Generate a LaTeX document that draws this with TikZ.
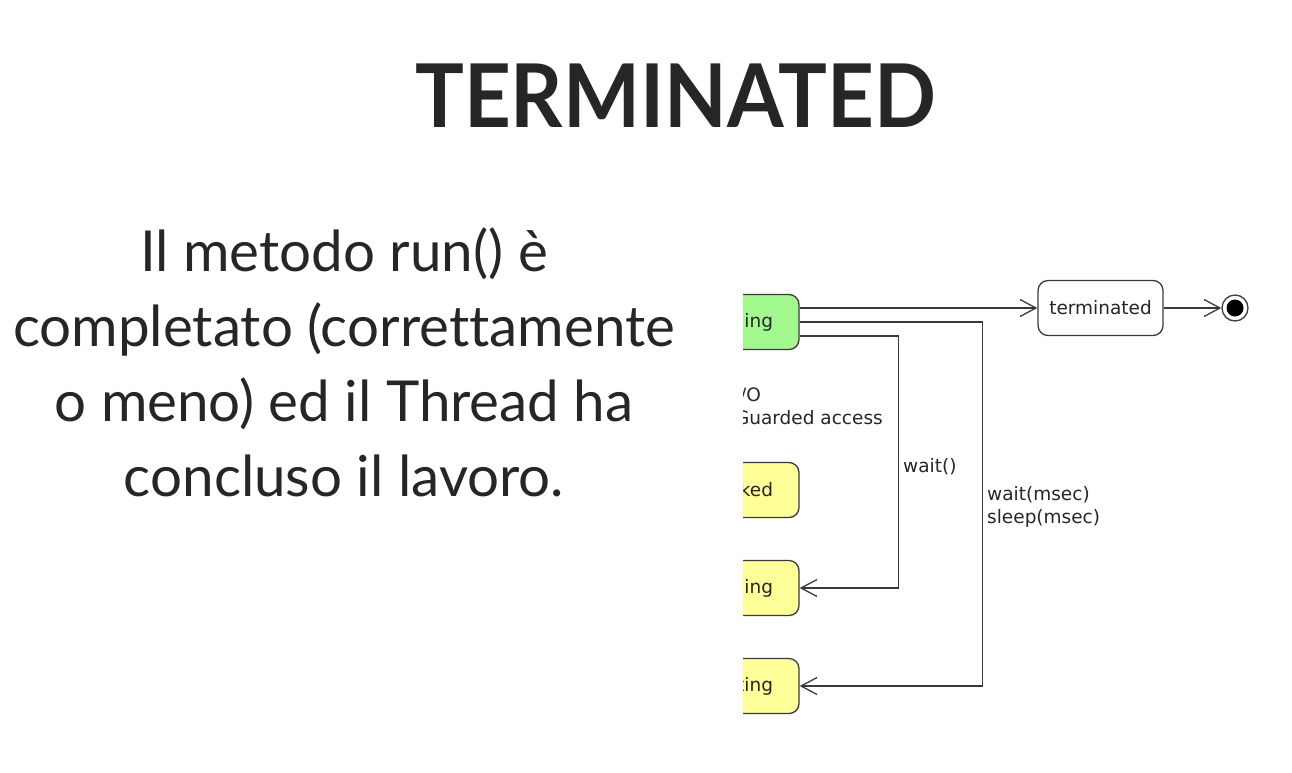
\documentclass[tikz,border=0pt]{standalone}
\usepackage{fontspec}
\setmainfont{Lato}[Ligatures=NoCommon]
\newfontfamily\umlfont{DejaVu Sans}
\usetikzlibrary{calc,positioning,arrows.meta}
\definecolor{slidetext}{HTML}{262626}
\definecolor{umlline}{HTML}{3A3A3A}
\definecolor{runfill}{HTML}{A3F88F}
\definecolor{waitfill}{HTML}{FFFF99}

\begin{document}
\begin{tikzpicture}[x=1pt,y=-1pt,
  state/.style={draw=umlline, line width=1.3pt, rounded corners=10pt, minimum height=55pt,
    font=\umlfont\fontsize{18.5}{22}\selectfont, text=slidetext},
  cutstate/.style={state, text width=115pt, inner xsep=26pt, align=right},
  trans/.style={draw=umlline, line width=1.3pt, -{Straight Barb[length=16pt,width=17pt]}},
  lbl/.style={font=\umlfont\fontsize{18.5}{23}\selectfont, text=slidetext, inner sep=0pt}]
\useasboundingbox (0,0) rectangle (1292,772);

\node[anchor=base, font=\fontsize{88}{90}\selectfont\bfseries, text=slidetext] (title) at (675.5,127) {\scalebox{0.926}[1]{TERMINATED}};
\node[align=center, font=\fontsize{56.5}{75}\selectfont, text=slidetext] (desc) at (344,362) {Il metodo run() è\\completato (correttamente\\o meno) ed il Thread ha\\concluso il lavoro.};

\begin{scope}
\clip (743,0) rectangle (1292,772);
% states cut by the slide
\node[cutstate, fill=runfill] (running) at (715.5,322) {ing};
\node[cutstate, fill=waitfill] (blocked) at (715.5,490) {ked};
\node[cutstate, fill=waitfill] (waiting) at (715.5,588) {ing};
\node[cutstate, fill=waitfill] (timed) at (715.5,686) {ting};
\node[state, fill=white, minimum width=125pt] (terminated) at (1100.5,308) {terminated};
\node[draw=umlline, line width=1.3pt, circle, minimum size=26pt, inner sep=0pt] (final) at (1235,308) {};
\fill[black] (final) circle [radius=8.5];

\draw[trans] ($(running.east)+(0,-14)$) -- (terminated.west);
\draw[trans] (terminated) -- (final);
\draw[trans] (running.east) -| ([xshift=183pt]timed.east) -- (timed.east);
\draw[trans] ($(running.east)+(0,14)$) -| ([xshift=99pt]waiting.east) -- (waiting.east);

\node[lbl, align=left, anchor=north east] (iolbl) at (883,388) {\hspace*{5pt}/O\\Guarded access};
\node[lbl, anchor=west] (waitlbl) at (903,467) {wait()};
\node[lbl, align=left, anchor=north west] (timedlbl) at (987,486) {wait(msec)\\sleep(msec)};
\end{scope}
\end{tikzpicture}
\end{document}
